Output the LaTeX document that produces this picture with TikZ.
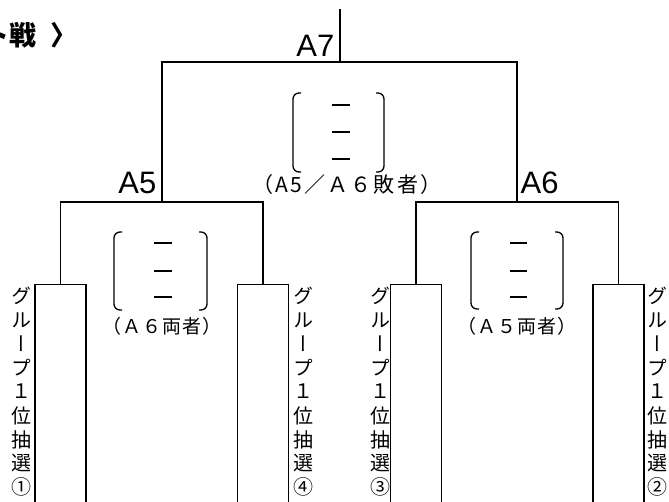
\documentclass[tikz,border=0pt]{standalone}
\usepackage{fontspec}
\setmainfont{Liberation Sans}
\newfontfamily\jp{Noto Sans CJK JP}
\newfontfamily\jpv[RawFeature=+vert]{Noto Sans CJK JP}
\begin{document}
\begin{tikzpicture}[x=1pt,y=1pt,
  tree/.style={line width=1.6pt,line cap=rect},
  gbox/.style={draw,line width=1.3pt,minimum width=51pt,minimum height=240pt,anchor=north,inner sep=0pt},
  brk/.style={line width=1.3pt,rounded corners=6pt},
  dsh/.style={line width=1.3pt},
  albl/.style={font=\fontsize{31}{31}\selectfont,inner sep=0pt},
  plbl/.style={font=\jp\addfontfeature{LetterSpace=6}\fontsize{19}{19}\selectfont,inner sep=0pt},
  clbl/.style={font=\jp\addfontfeature{LetterSpace=10}\fontsize{21}{21}\selectfont,inner sep=0pt},
  ttl/.style={font=\jp\bfseries\fontsize{27}{27}\selectfont,inner sep=0pt},
  vch/.style={font=\jpv\fontsize{20}{20}\selectfont,inner sep=0pt}]
\useasboundingbox (0,0) rectangle (669,-501);
% title fragment
\node[ttl,anchor=base east] (title) at (37,-45) {ト戦};
\node[ttl,anchor=base west] (titleb) at (50,-45) {〉};
% boxes
\node[gbox] (b1) at (60.5,-284) {};
\node[gbox] (b2) at (263,-284) {};
\node[gbox] (b3) at (416,-284) {};
\node[gbox] (b4) at (618.5,-284) {};
% tree
\coordinate (top) at (340,-10);
\coordinate (a7) at (340,-62);
\coordinate (a5) at (162,-202);
\coordinate (a6) at (517,-202);
\draw[tree] (top) -- (a7);
\draw[tree] (a5) |- (a7) -| (a6);
\draw[tree] (b1.north) |- (a5) -| (b2.north);
\draw[tree] (b3.north) |- (a6) -| (b4.north);
% match labels
\node[albl,anchor=base east] (la7) at (334.5,-56) {A7};
\node[albl,anchor=base east] (la5) at (156.5,-193.5) {A5};
\node[albl,anchor=base west] (la6) at (520.5,-193.5) {A6};
% brackets centre
\draw[brk] (301,-93) -- (293,-93) -- (293,-172) -- (301,-172);
\draw[brk] (376,-93) -- (384,-93) -- (384,-172) -- (376,-172);
\draw[dsh] (332,-105) -- (350,-105) (332,-132) -- (350,-132) (332,-159) -- (350,-159);
\node[clbl] (lc) at (347,-185) {（A5／Ａ６敗者）};
% brackets left
\draw[brk] (122,-232) -- (114,-232) -- (114,-310) -- (122,-310);
\draw[brk] (199,-232) -- (207,-232) -- (207,-310) -- (199,-310);
\draw[dsh] (154,-243) -- (172,-243) (154,-271) -- (172,-271) (154,-297) -- (172,-297);
\node[plbl] (ll) at (162,-326) {（Ａ６両者）};
% brackets right
\draw[brk] (479,-232) -- (471,-232) -- (471,-309) -- (479,-309);
\draw[brk] (555,-232) -- (563,-232) -- (563,-309) -- (555,-309);
\draw[dsh] (510,-243) -- (527,-243) (510,-271) -- (527,-271) (510,-297) -- (527,-297);
\node[plbl] (lr) at (517,-326) {（Ａ５両者）};
% vertical texts
\foreach \c [count=\i] in {グ,ル,ー,プ,１,位,抽,選,①}{
  \node[vch] (t1-\i) at (22,{-296-23.9*(\i-1)}) {\c};
}
\foreach \c [count=\i] in {グ,ル,ー,プ,１,位,抽,選,④}{
  \node[vch] (t2-\i) at (303,{-296-23.9*(\i-1)}) {\c};
}
\foreach \c [count=\i] in {グ,ル,ー,プ,１,位,抽,選,③}{
  \node[vch] (t3-\i) at (380,{-296-23.9*(\i-1)}) {\c};
}
\foreach \c [count=\i] in {グ,ル,ー,プ,１,位,抽,選,②}{
  \node[vch] (t4-\i) at (657,{-296-23.9*(\i-1)}) {\c};
}
\end{tikzpicture}
\end{document}
